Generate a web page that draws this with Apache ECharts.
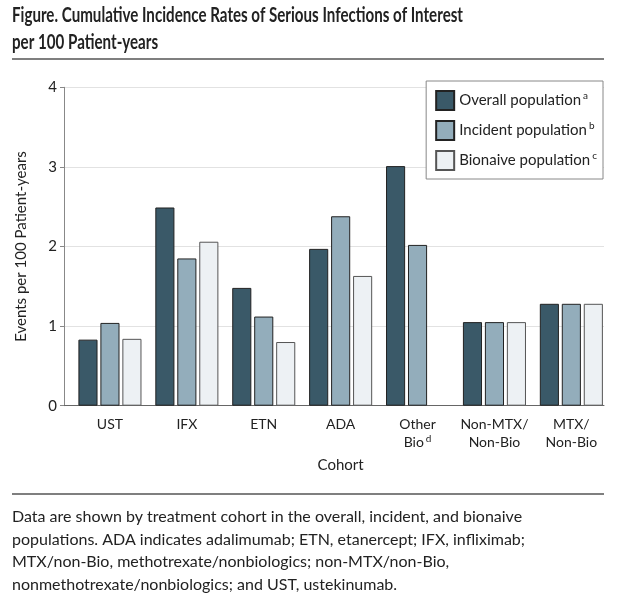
<!DOCTYPE html>
<html>
<head>
<meta charset="utf-8">
<script src="https://cdn.jsdelivr.net/npm/echarts@6/dist/echarts.min.js"></script>
<style>
	html, body { margin: 0; padding: 0; background: #fff; }
	#main { width: 627px; height: 597px; }
</style>
</head>
<body>
<div id="main"></div>
<script>
// 数据
var cohorts = [ 'UST', 'IFX', 'ETN', 'ADA', 'Other\nBio{sup|d}', 'Non-MTX/\nNon-Bio', 'MTX/\nNon-Bio' ];
var overallValues = [ 0.83, 2.49, 1.48, 1.97, 3.01, 1.05, 1.28 ];
var incidentValues = [ 1.04, 1.85, 1.12, 2.38, 2.02, 1.05, 1.28 ];
var bionaiveValues = [ 0.84, 2.06, 0.80, 1.63, null, 1.05, 1.28 ];
var seriesNames = [ 'Overall population', 'Incident population', 'Bionaive population' ];
var seriesMarks = [ 'a', 'b', 'c' ];
var yTicks = [ 0, 1, 2, 3, 4 ];

var titleLines = [ 'Figure. Cumulative Incidence Rates of Serious Infections of Interest',
		'per 100 Patient-years' ];
var captionLines = [
	'Data are shown by treatment cohort in the overall, incident, and bionaive',
	'populations. ADA indicates adalimumab; ETN, etanercept; IFX, infliximab;',
	'MTX/non-Bio, methotrexate/nonbiologics; non-MTX/non-Bio,',
	'nonmethotrexate/nonbiologics; and UST, ustekinumab.'
];

var colors = [ '#3a5968', '#93adbb', '#edf1f4' ];
var font = 'Lato, "Open Sans", sans-serif';
var titleFont = 'bold 21px Lato, sans-serif';

// 标题压缩宽度
var ctx = document.createElement('canvas').getContext('2d');
ctx.font = titleFont;
var titleScale = 451 / ctx.measureText(titleLines[0]).width;

var chart = echarts.init(document.getElementById('main'));

function makeSeries(name, data, idx) {
	return {
		name : name,
		type : 'bar',
		xAxisIndex : 0,
		yAxisIndex : 0,
		data : data,
		barGap : '15%',
		barCategoryGap : '18%',
		itemStyle : {
			color : colors[idx],
			borderColor : idx == 2 ? '#555' : '#222',
			borderWidth : 1
		}
	};
}

var supStyle = {
	fontFamily : font,
	fontSize : 10,
	lineHeight : 10,
	verticalAlign : 'top',
	padding : [ 0, 0, 0, 2 ]
};

var graphics = [ {
	type : 'line',
	shape : { x1 : 12, y1 : 59, x2 : 604, y2 : 59 },
	style : { stroke : '#555', lineWidth : 1.5 }
}, {
	type : 'line',
	shape : { x1 : 12, y1 : 494, x2 : 604, y2 : 494 },
	style : { stroke : '#555', lineWidth : 1.5 }
} ];
for (var t = 0; t < titleLines.length; t++) {
	graphics.push({
		type : 'text',
		x : 12,
		y : 5 + t * 27,
		scaleX : titleScale,
		style : {
			text : titleLines[t],
			font : titleFont,
			fill : '#222'
		}
	});
}
for (var i = 0; i < captionLines.length; i++) {
	graphics.push({
		type : 'text',
		left : 12,
		top : 509 + i * 22.5,
		style : {
			text : captionLines[i],
			font : '16px ' + font,
			fill : '#222'
		}
	});
}

var option = {
	animation : false,
	backgroundColor : '#fff',
	grid : [ {
		// 柱子
		left : 71.5,
		right : 17.2,
		top : 87.3,
		bottom : 191.3
	}, {
		// 坐标轴
		left : 64,
		right : 23,
		top : 87.3,
		bottom : 191.3
	} ],
	legend : {
		orient : 'vertical',
		right : 24,
		top : 81,
		icon : 'rect',
		itemWidth : 18,
		itemHeight : 19,
		itemGap : 9,
		padding : [ 9, 6, 8, 9 ],
		borderColor : '#888',
		borderWidth : 1,
		backgroundColor : '#fff',
		data : seriesNames,
		formatter : function(name) {
			var i = seriesNames.indexOf(name);
			return name + '{sup|' + seriesMarks[i] + '}';
		},
		textStyle : {
			fontFamily : font,
			fontSize : 15,
			lineHeight : 19,
			color : '#222',
			rich : { sup : supStyle }
		}
	},
	xAxis : [ {
		type : 'category',
		gridIndex : 0,
		data : cohorts,
		axisLine : { show : false },
		axisTick : { show : false },
		axisLabel : {
			interval : 0,
			fontFamily : font,
			fontSize : 14,
			color : '#222',
			margin : 10,
			lineHeight : 18,
			rich : { sup : supStyle }
		},
		name : 'Cohort',
		nameLocation : 'middle',
		nameGap : 52,
		nameTextStyle : { fontFamily : font, fontSize : 15, color : '#222' }
	}, {
		type : 'category',
		gridIndex : 1,
		data : cohorts,
		axisLine : { show : true, lineStyle : { color : '#666', width : 1 } },
		axisTick : { show : false },
		axisLabel : { show : false }
	} ],
	yAxis : [ {
		type : 'value',
		gridIndex : 0,
		min : 0,
		max : 4,
		interval : 1,
		show : false
	}, {
		type : 'value',
		gridIndex : 1,
		min : yTicks[0],
		max : yTicks[yTicks.length - 1],
		interval : 1,
		axisLine : { show : true, lineStyle : { color : '#888', width : 1 } },
		axisTick : { show : true, length : 4, lineStyle : { color : '#888' } },
		axisLabel : { fontFamily : font, fontSize : 15, color : '#222', margin : 7 },
		splitLine : { show : true, lineStyle : { color : '#e2e2e2', width : 1 } },
		name : 'Events per 100 Patient-years',
		nameLocation : 'middle',
		nameGap : 35,
		nameTextStyle : { fontFamily : font, fontSize : 15, color : '#222' }
	} ],
	series : [ makeSeries(seriesNames[0], overallValues, 0),
			makeSeries(seriesNames[1], incidentValues, 1),
			makeSeries(seriesNames[2], bionaiveValues, 2) ],
	graphic : graphics
};
chart.setOption(option);
</script>
</body>
</html>
